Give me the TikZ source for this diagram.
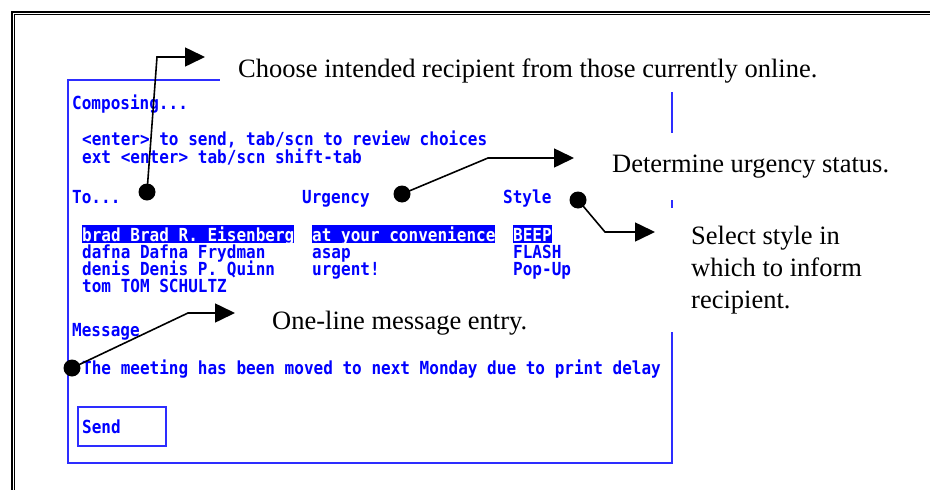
\documentclass[tikz,border=0pt]{standalone}
\usepackage{fontspec}
\setmainfont{Liberation Serif}
\newfontfamily\pixfont{DejaVu Sans Mono}[FakeStretch=0.89]
\usetikzlibrary{arrows.meta}
\definecolor{scrblue}{RGB}{0,0,255}
\definecolor{edgeblue}{RGB}{45,45,255}
\begin{document}
\begin{tikzpicture}[x=1pt,y=-1pt,
  scr/.style={font=\pixfont\bfseries\frenchspacing\fontsize{18}{19}\selectfont,
              text=scrblue, anchor=base west, inner sep=0pt},
  hl/.style={scr, fill=scrblue, text=white, text height=16pt, text depth=2pt},
  note/.style={font=\fontsize{26.5}{32}\selectfont, fill=white, anchor=north west,
               align=left, inner ysep=0pt},
  pin/.style={circle, fill=black, inner sep=0pt, minimum size=17pt},
  lead/.style={line width=1.6pt, -{Triangle[length=20pt,width=19pt]}},
  screenedge/.style={draw=edgeblue, line width=2pt},
]
\path[use as bounding box] (0,0) rectangle (930,490);
\clip (0,0) rectangle (930,490);

% double page frame (runs off the right and bottom)
\draw[line width=2.3pt] (12.2,12.2) rectangle (1000,1000);
\draw[line width=1.2pt] (14.7,14.7) rectangle (1000,1000);

% screen outline and send button
\draw[screenedge] (68,80) rectangle (672,463);
\node[screenedge, minimum width=88pt, minimum height=39pt, anchor=north west, inner sep=0pt]
  (sendbox) at (77,406) {};

% screen text
\node[scr] (composing) at (72,109) {Composing...};
\node[scr] (help1) at (82,145) {<enter> to send, tab/scn to review choices};
\node[scr] (help2) at (82,163) {ext <enter> tab/scn shift-tab};
\node[scr] (to) at (72,203) {To...};
\node[scr] (urgency) at (302,203) {Urgency};
\node[scr] (style) at (503,203) {Style};

\node[hl] (nameA) at (82,241) {brad Brad R. Eisenberg};
\node[hl] (urgA) at (312,241) {at your convenience};
\node[hl] (styA) at (513,241) {BEEP};
\node[scr] (nameB) at (82,258) {dafna Dafna Frydman};
\node[scr] (urgB) at (312,258) {asap};
\node[scr] (styB) at (513,258) {FLASH};
\node[scr] (nameC) at (82,275) {denis Denis P. Quinn};
\node[scr] (urgC) at (312,275) {urgent!};
\node[scr] (styC) at (513,275) {Pop-Up};
\node[scr] (nameD) at (82,292) {tom TOM SCHULTZ};

\node[scr] (message) at (72,336) {Message};
\node[scr] (msgtext) at (82,374) {The meeting has been moved to next Monday due to print delay};
\node[scr] (send) at (82,433) {Send};

% annotation labels
\node[note, minimum height=42pt, inner xsep=18pt] (choose) at (220,50)
  {Choose intended recipient from those currently online.};
\node[note, minimum height=67pt, inner xsep=17pt] (determine) at (595,133)
  {Determine urgency status.};
\node[note, minimum height=124pt, inner xsep=29pt] (select) at (662,208)
  {Select style in\\which to inform\\recipient.};
\node[note, minimum height=42pt, inner xsep=20pt] (oneline) at (252,302)
  {One-line message entry.};

% callout leaders
\node[pin] (p1) at (147,192) {};
\coordinate (k1) at (157,57);
\coordinate (t1) at (205,57);
\draw[lead] (p1.center) -- (k1) -- (t1);

\node[pin] (p2) at (402,194) {};
\coordinate (k2) at (488,158);
\coordinate (t2) at (574,158);
\draw[lead] (p2.center) -- (k2) -- (t2);

\node[pin] (p3) at (578,200) {};
\coordinate (k3) at (605,232);
\coordinate (t3) at (655,232);
\draw[lead] (p3.center) -- (k3) -- (t3);

\node[pin] (p4) at (72,368) {};
\coordinate (k4) at (188,313);
\coordinate (t4) at (235,313);
\draw[lead] (p4.center) -- (k4) -- (t4);
\end{tikzpicture}
\end{document}
